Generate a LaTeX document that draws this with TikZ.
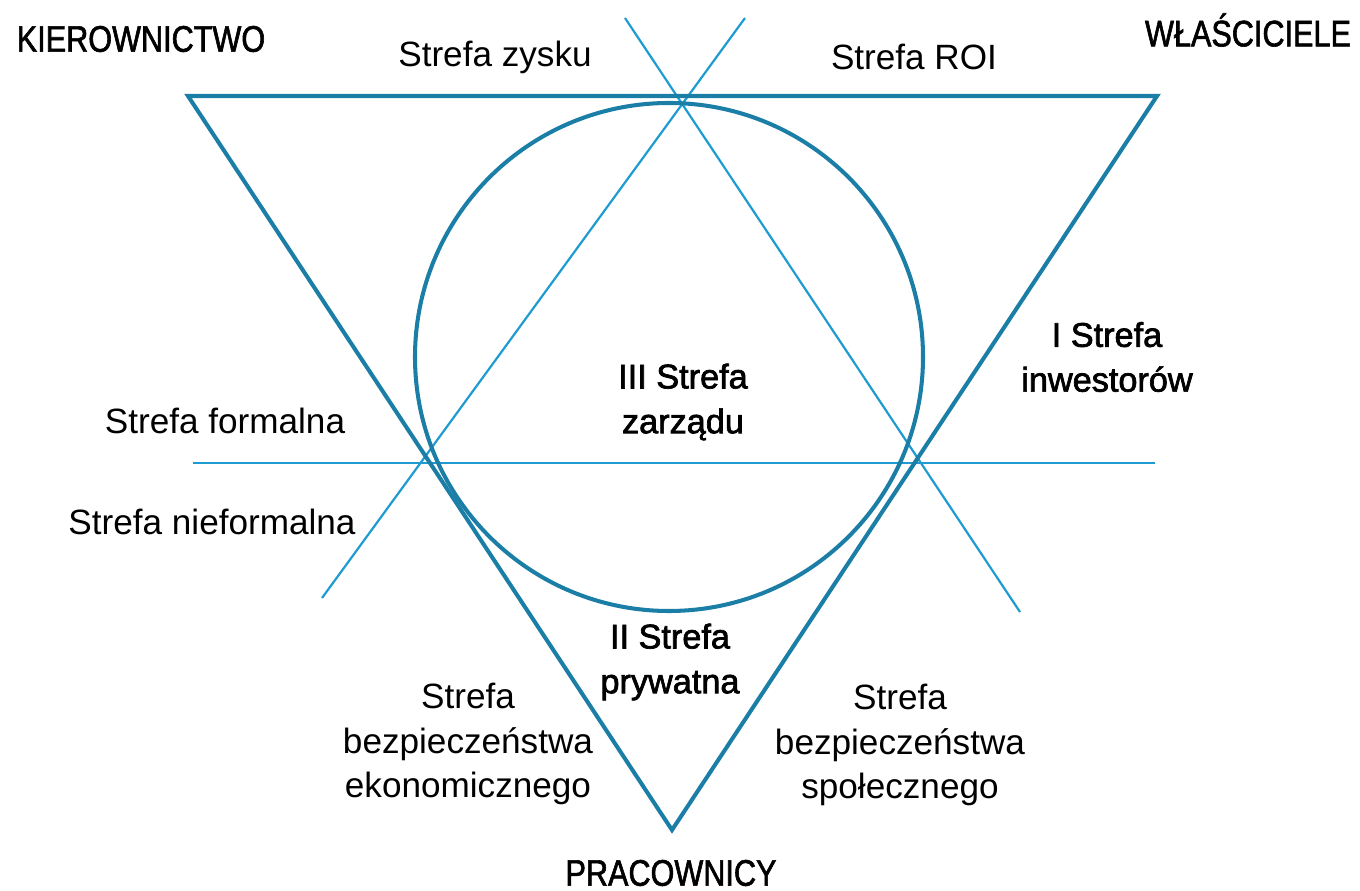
\documentclass[tikz,border=0pt]{standalone}
\usepackage{fontspec}
\setmainfont{Liberation Sans}
\newfontfamily\capsfont[FakeStretch=0.83,FakeBold=1.6]{Liberation Sans}
\newfontfamily\zonefont[FakeBold=2]{Liberation Sans}
\usepackage{xcolor}
\definecolor{FrameTeal}{HTML}{1A7EA6}
\definecolor{AxisBlue}{HTML}{1E9BD0}

\begin{document}
\begin{tikzpicture}[
    x=0.02cm, y=-0.02cm,
    frame/.style={draw=FrameTeal, line width=2.3pt},
    axis/.style={draw=AxisBlue, line width=1.25pt},
    group/.style={font=\capsfont\fontsize{21}{25}\selectfont, inner sep=0pt},
    zone/.style={font=\fontsize{20}{25.5}\selectfont, align=center, inner sep=0pt},
    mainzone/.style={font=\zonefont\fontsize{19.5}{25.5}\selectfont, align=center, inner sep=0pt}
  ]
    \useasboundingbox (0,0) rectangle (1360,891);
    % corners of the triangle and the circle's centre
    \coordinate (tl) at (188,96);
    \coordinate (tr) at (1157,96);
    \coordinate (bt) at (672,830);
    \coordinate (mid) at (669,357);
    % splitting lines
    \coordinate (hl) at (193,463);
    \coordinate (hr) at (1155,463);
    \coordinate (da1) at (625,18);
    \coordinate (da2) at (1020,612);
    \coordinate (db1) at (745,18);
    \coordinate (db2) at (322,598);
    \draw[axis] (hl) -- (hr);
    \draw[axis] (da1) -- (da2);
    \draw[axis] (db1) -- (db2);
    \draw[frame] (tl) -- (tr) -- (bt) -- cycle;
    \draw[frame] (mid) circle (254);
    % groups at the corners
    \node[group] (kier) at (141,39) {KIEROWNICTWO};
    \node[group] (wlas) at (1248,30) {WŁAŚCICIELE};
    \node[group] (prac) at (671,873) {PRACOWNICY};
    % zone labels
    \node[zone] (zysk) at (495,57) {Strefa zysku};
    \node[zone] (roi) at (914,57) {Strefa ROI};
    \node[zone] (form) at (225,421) {Strefa formalna};
    \node[zone] (nieform) at (212,522) {Strefa nieformalna};
    \node[zone] (ekon) at (468,744) {Strefa\\bezpieczeństwa\\ekonomicznego};
    \node[zone] (spol) at (900,745) {Strefa\\bezpieczeństwa\\społecznego};
    \node[mainzone] (zarz) at (683,402) {III Strefa\\zarządu};
    \node[mainzone] (inw) at (1107,357) {I Strefa\\inwestorów};
    \node[mainzone] (pryw) at (670,662) {II Strefa\\prywatna};
  \end{tikzpicture}
\end{document}
